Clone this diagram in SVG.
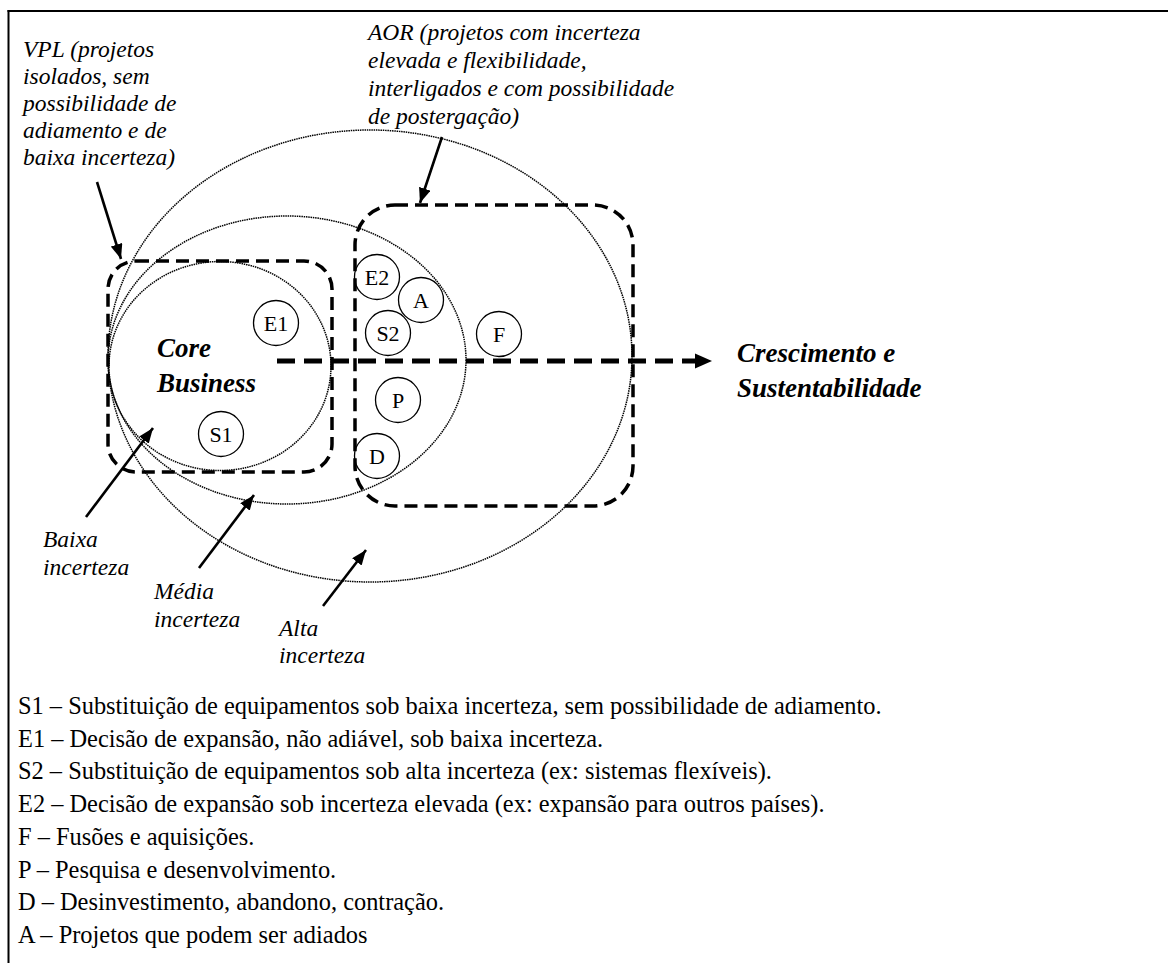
<svg xmlns="http://www.w3.org/2000/svg" width="1168" height="963" viewBox="0 0 1168 963">
  <style>
    text { font-family: "Liberation Serif", "Times New Roman", serif; fill: #000; }
    .it { font-style: italic; font-size: 23.5px; }
    .bi { font-style: italic; font-weight: bold; font-size: 27px; }
    .leg { font-size: 24.4px; }
    .nd circle { fill: none; stroke: #000; stroke-width: 1.3; }
    .nd text { font-size: 22px; text-anchor: middle; }
    .zone { fill: none; stroke: #000; stroke-width: 1.5; stroke-dasharray: 1.5 0.8; }
    .scope { fill: none; stroke: #000; stroke-width: 3.5; stroke-dasharray: 13 7; }
    .ptr { stroke: #000; stroke-width: 2.6; fill: none; marker-end: url(#ah); }
    .frame { stroke: #000; stroke-width: 2; fill: none; }
  </style>
  <defs>
    <marker id="ah" markerUnits="userSpaceOnUse" markerWidth="16" markerHeight="12" refX="15" refY="6" orient="auto">
      <path d="M0,0 L15,6 L0,12 Z" fill="#000"/>
    </marker>
  </defs>

  <rect width="1168" height="963" fill="#fff"/>

  <!-- page frame (top and left rules) -->
  <g id="frame">
    <line class="frame" x1="7.5" y1="11" x2="1168" y2="11"/>
    <line class="frame" x1="8.5" y1="10" x2="8.5" y2="963"/>
  </g>

  <!-- uncertainty zones -->
  <g id="zones">
    <ellipse id="zone-alta" class="zone" cx="370" cy="356" rx="262" ry="226"/>
    <ellipse id="zone-media" class="zone" cx="287" cy="360" rx="179" ry="144"/>
    <ellipse id="zone-baixa" class="zone" cx="220" cy="366" rx="111" ry="104.5"/>
  </g>

  <!-- method scopes -->
  <g id="scope-vpl">
    <rect class="scope" x="108" y="261" width="224" height="211" rx="28"/>
  </g>
  <g id="scope-aor">
    <rect class="scope" x="355" y="205" width="278" height="301" rx="40"/>
  </g>

  <!-- connectors -->
  <g id="connectors">
    <line x1="277" y1="361" x2="697" y2="361" stroke="#000" stroke-width="5" stroke-dasharray="18 9"/>
    <polygon points="695,353.5 712,361 695,368.5" fill="#000"/>
    <line class="ptr" x1="97" y1="182" x2="121" y2="259"/>
    <line class="ptr" x1="442" y1="137" x2="420" y2="203"/>
    <line class="ptr" x1="86" y1="517" x2="153" y2="428"/>
    <line class="ptr" x1="199" y1="568" x2="254" y2="495"/>
    <line class="ptr" x1="323" y1="606" x2="366" y2="550"/>
  </g>

  <!-- project nodes -->
  <g id="node-E1" class="nd"><circle cx="276" cy="323" r="22.5"/><text x="276" y="331">E1</text></g>
  <g id="node-S1" class="nd"><circle cx="221" cy="434" r="22.5"/><text x="221" y="442">S1</text></g>
  <g id="node-E2" class="nd"><circle cx="377" cy="277" r="22.5"/><text x="377" y="285">E2</text></g>
  <g id="node-A" class="nd"><circle cx="421" cy="300" r="22.5"/><text x="421" y="308">A</text></g>
  <g id="node-S2" class="nd"><circle cx="388" cy="333" r="22.5"/><text x="388" y="341">S2</text></g>
  <g id="node-F" class="nd"><circle cx="499" cy="334" r="22.5"/><text x="499" y="342">F</text></g>
  <g id="node-P" class="nd"><circle cx="398" cy="400" r="22.5"/><text x="398" y="408">P</text></g>
  <g id="node-D" class="nd"><circle cx="377" cy="456" r="22.5"/><text x="377" y="464">D</text></g>

  <!-- annotations -->
  <g id="label-vpl" class="it">
    <text x="23" y="57">VPL (projetos</text>
    <text x="23" y="84">isolados, sem</text>
    <text x="23" y="111">possibilidade de</text>
    <text x="23" y="138">adiamento e de</text>
    <text x="23" y="165">baixa incerteza)</text>
  </g>
  <g id="label-aor" class="it">
    <text x="368" y="40">AOR (projetos com incerteza</text>
    <text x="368" y="68">elevada e flexibilidade,</text>
    <text x="368" y="96">interligados e com possibilidade</text>
    <text x="368" y="124">de postergação)</text>
  </g>
  <g id="label-core" class="bi">
    <text x="157" y="357">Core</text>
    <text x="157" y="392">Business</text>
  </g>
  <g id="label-growth" class="bi">
    <text x="737" y="362">Crescimento e</text>
    <text x="737" y="397">Sustentabilidade</text>
  </g>
  <g id="label-baixa" class="it">
    <text x="43" y="547">Baixa</text>
    <text x="43" y="575">incerteza</text>
  </g>
  <g id="label-media" class="it">
    <text x="154" y="599">Média</text>
    <text x="154" y="627">incerteza</text>
  </g>
  <g id="label-alta" class="it">
    <text x="279" y="636">Alta</text>
    <text x="279" y="663">incerteza</text>
  </g>

  <!-- legend -->
  <g id="legend" class="leg">
    <text x="18" y="714">S1 – Substituição de equipamentos sob baixa incerteza, sem possibilidade de adiamento.</text>
    <text x="18" y="746.7">E1 – Decisão de expansão, não adiável, sob baixa incerteza.</text>
    <text x="18" y="779.4">S2 – Substituição de equipamentos sob alta incerteza (ex: sistemas flexíveis).</text>
    <text x="18" y="812.1">E2 – Decisão de expansão sob incerteza elevada (ex: expansão para outros países).</text>
    <text x="18" y="844.8">F – Fusões e aquisições.</text>
    <text x="18" y="877.5">P – Pesquisa e desenvolvimento.</text>
    <text x="18" y="910.2">D – Desinvestimento, abandono, contração.</text>
    <text x="18" y="943">A – Projetos que podem ser adiados</text>
  </g>
</svg>
